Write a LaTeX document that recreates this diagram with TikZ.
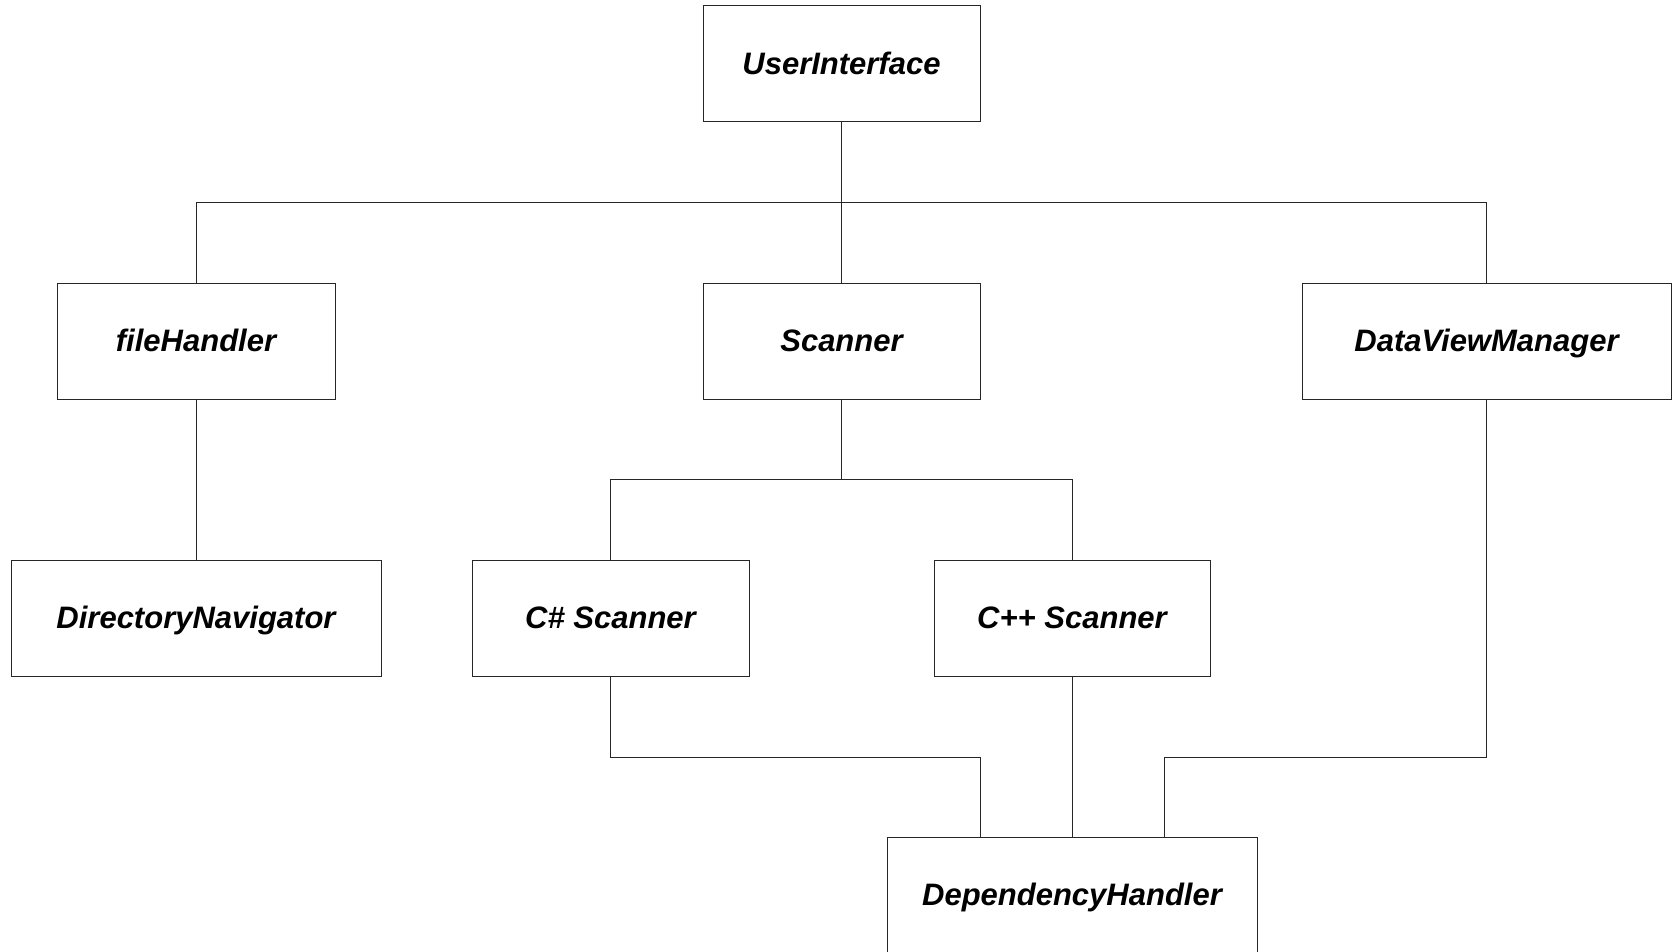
\documentclass[tikz,border=0pt]{standalone}
\usepackage{fontspec}
\setmainfont{Liberation Sans}
\usepackage{tikz}
\usetikzlibrary{calc}
\tikzset{
    classbox/.style={draw=black!85, line width=1pt, fill=white, minimum height=116pt,
        inner sep=0pt, text height=21pt, text depth=0pt,
        font=\fontsize{31}{37}\selectfont\bfseries\itshape},
    link/.style={draw=black!85, line width=1pt}
}

\begin{document}
\begin{tikzpicture}[x=1pt, y=-1pt]

    % Fix the page to the reference size
    \useasboundingbox (0,0) rectangle (1677,951);

    % Top level
    \node[classbox, minimum width=277pt] (ui) at (841.5,63.5) {UserInterface};

    % Second row
    \node[classbox, minimum width=278pt] (filehandler) at (196,341) {fileHandler};
    \node[classbox, minimum width=277pt] (scanner) at (841.5,341) {Scanner};
    \node[classbox, minimum width=369pt] (dataview) at (1486.5,341) {DataViewManager};

    % Third row
    \node[classbox, minimum width=370pt] (dirnav) at (196,618) {DirectoryNavigator};
    \node[classbox, minimum width=277pt] (csharp) at (610.5,618) {C\# Scanner};
    \node[classbox, minimum width=276pt] (cpp) at (1072,618) {C++ Scanner};

    % Bottom
    \node[classbox, minimum width=370pt] (dephandler) at (1072,895) {DependencyHandler};

    % Bus lines
    \coordinate (topbus) at (0,202);
    \coordinate (midbus) at (0,479);
    \coordinate (lowbus) at (0,757);

    % UserInterface to its children
    \foreach \child in {filehandler,scanner,dataview}{
        \draw[link] (ui.south) -- (ui.south |- topbus) -| (\child.north);
    }

    % fileHandler to DirectoryNavigator
    \draw[link] (filehandler.south) -- (dirnav.north);

    % Scanner to the two scanners
    \foreach \child in {csharp,cpp}{
        \draw[link] (scanner.south) -- (scanner.south |- midbus) -| (\child.north);
    }

    % Links into DependencyHandler
    \draw[link] (csharp.south) -- (csharp.south |- lowbus) -| ([xshift=-92pt]dephandler.north);
    \draw[link] (cpp.south) -- (dephandler.north);
    \draw[link] (dataview.south) -- (dataview.south |- lowbus) -| ([xshift=92pt]dephandler.north);

\end{tikzpicture}
\end{document}
